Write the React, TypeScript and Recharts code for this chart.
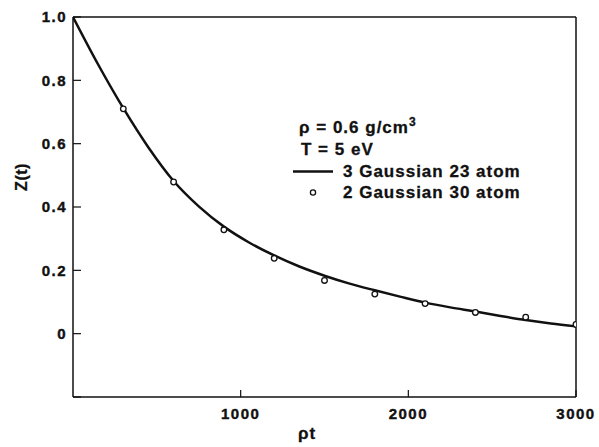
import { ComposedChart, Line, Scatter, XAxis, YAxis, Customized } from "recharts"

// 3 Gaussian, 23 atom fit (solid curve)
const curveT = [0, 150, 300, 450, 600, 750, 900, 1050, 1200, 1350, 1500, 1650, 1800, 1950, 2100, 2250, 2400, 2550, 2700, 2850, 3000]
const curveZ = [1.0, 0.85, 0.712, 0.588, 0.482, 0.402, 0.338, 0.288, 0.247, 0.212, 0.183, 0.158, 0.137, 0.117, 0.098, 0.083, 0.07, 0.056, 0.043, 0.032, 0.023]

// 2 Gaussian, 30 atom fit (open circles)
const pointT = [300, 600, 900, 1200, 1500, 1800, 2100, 2400, 2700, 3000]
const pointZ = [0.71, 0.479, 0.328, 0.238, 0.168, 0.125, 0.095, 0.067, 0.052, 0.029]

const xTicks = [1000, 2000, 3000]
const yTicks = [-0.2, 0, 0.2, 0.4, 0.6, 0.8, 1.0]

const curveData = curveT.map((t, i) => ({ t, z: curveZ[i] }))
const pointData = pointT.map((t, i) => ({ t, z: pointZ[i] }))

const ink = "#111"
const font = "'Liberation Sans', Arial, sans-serif"
const labelProps = {
  fill: ink,
  stroke: ink,
  strokeWidth: 0.4,
  fontSize: 15,
  fontWeight: 700,
  fontFamily: font,
  letterSpacing: 1.5,
}

const fmtY = (v: number) => (v < -0.01 ? "" : Math.abs(v) < 0.01 ? "0" : v.toFixed(1))

function LeftTick(props: any) {
  const { x, y, payload } = props
  return (
    <text x={x} y={y} dy="0.36em" textAnchor="end" {...labelProps}>
      {fmtY(payload.value)}
    </text>
  )
}

function BottomTick(props: any) {
  const { x, y, payload } = props
  return (
    <text x={x} y={y} dy="0.71em" textAnchor="middle" {...labelProps}>
      {payload.value}
    </text>
  )
}

function Annotations() {
  const txt = { fill: ink, stroke: ink, strokeWidth: 0.3, fontFamily: font, fontWeight: 700, fontSize: 17, letterSpacing: 1 }
  return (
    <g>
      <text x={299} y={133} {...txt}>
        ρ = 0.6 g/cm
        <tspan fontSize={12} dy={-7}>3</tspan>
      </text>
      <text x={301} y={155} {...txt}>T = 5 eV</text>
      <line x1={293} x2={333} y1={171.5} y2={171.5} stroke={ink} strokeWidth={2.5} />
      <text x={343} y={177} {...txt}>3 Gaussian 23 atom</text>
      <circle cx={313} cy={192.5} r={2.6} fill="#fff" stroke={ink} strokeWidth={1.3} />
      <text x={343} y={198} {...txt}>2 Gaussian 30 atom</text>
      <text x={298} y={439} {...txt}>ρt</text>
      <text
        x={0}
        y={0}
        {...txt}
        fontSize={16}
        letterSpacing={0.5}
        textAnchor="middle"
        transform="translate(27 177) rotate(-90)"
      >
        Z(t)
      </text>
    </g>
  )
}

export default function App() {
  return (
    <div style={{ position: "absolute", left: 0, top: 0, background: "#fff" }}>
      <ComposedChart width={599} height={447} margin={{ top: 2, right: 3, bottom: 20, left: 13 }}>
        <XAxis
          xAxisId="b"
          dataKey="t"
          type="number"
          domain={[0, 3000]}
          ticks={xTicks}
          height={30}
          tickSize={-7}
          tickMargin={18}
          tick={<BottomTick />}
          axisLine={{ stroke: ink, strokeWidth: 1.5 }}
          tickLine={{ stroke: ink, strokeWidth: 1.2 }}
          allowDataOverflow
        />
        <XAxis
          xAxisId="top"
          orientation="top"
          type="number"
          domain={[0, 3000]}
          height={15}
          tick={false}
          tickLine={false}
          axisLine={{ stroke: ink, strokeWidth: 1.5 }}
        />
        <YAxis
          yAxisId="l"
          type="number"
          domain={[-0.2, 1.0]}
          ticks={yTicks}
          width={60}
          tickSize={-8}
          tickMargin={14}
          tick={<LeftTick />}
          axisLine={{ stroke: ink, strokeWidth: 1.5 }}
          tickLine={{ stroke: ink, strokeWidth: 1.2 }}
        />
        <YAxis
          yAxisId="r"
          orientation="right"
          type="number"
          domain={[-0.2, 1.0]}
          ticks={yTicks}
          width={20}
          tickSize={-8}
          tick={false}
          axisLine={{ stroke: ink, strokeWidth: 1.5 }}
          tickLine={{ stroke: ink, strokeWidth: 1.2 }}
        />
        <Line
          xAxisId="b"
          yAxisId="l"
          data={curveData}
          dataKey="z"
          type="monotone"
          stroke={ink}
          strokeWidth={2.5}
          dot={false}
          activeDot={false}
          isAnimationActive={false}
        />
        <Scatter
          xAxisId="b"
          yAxisId="l"
          data={pointData}
          dataKey="z"
          shape={(p: any) => (
            <circle cx={p.cx} cy={p.cy} r={2.8} fill="#fff" stroke={ink} strokeWidth={1.3} />
          )}
          isAnimationActive={false}
        />
        <Customized component={Annotations} />
      </ComposedChart>
    </div>
  )
}
